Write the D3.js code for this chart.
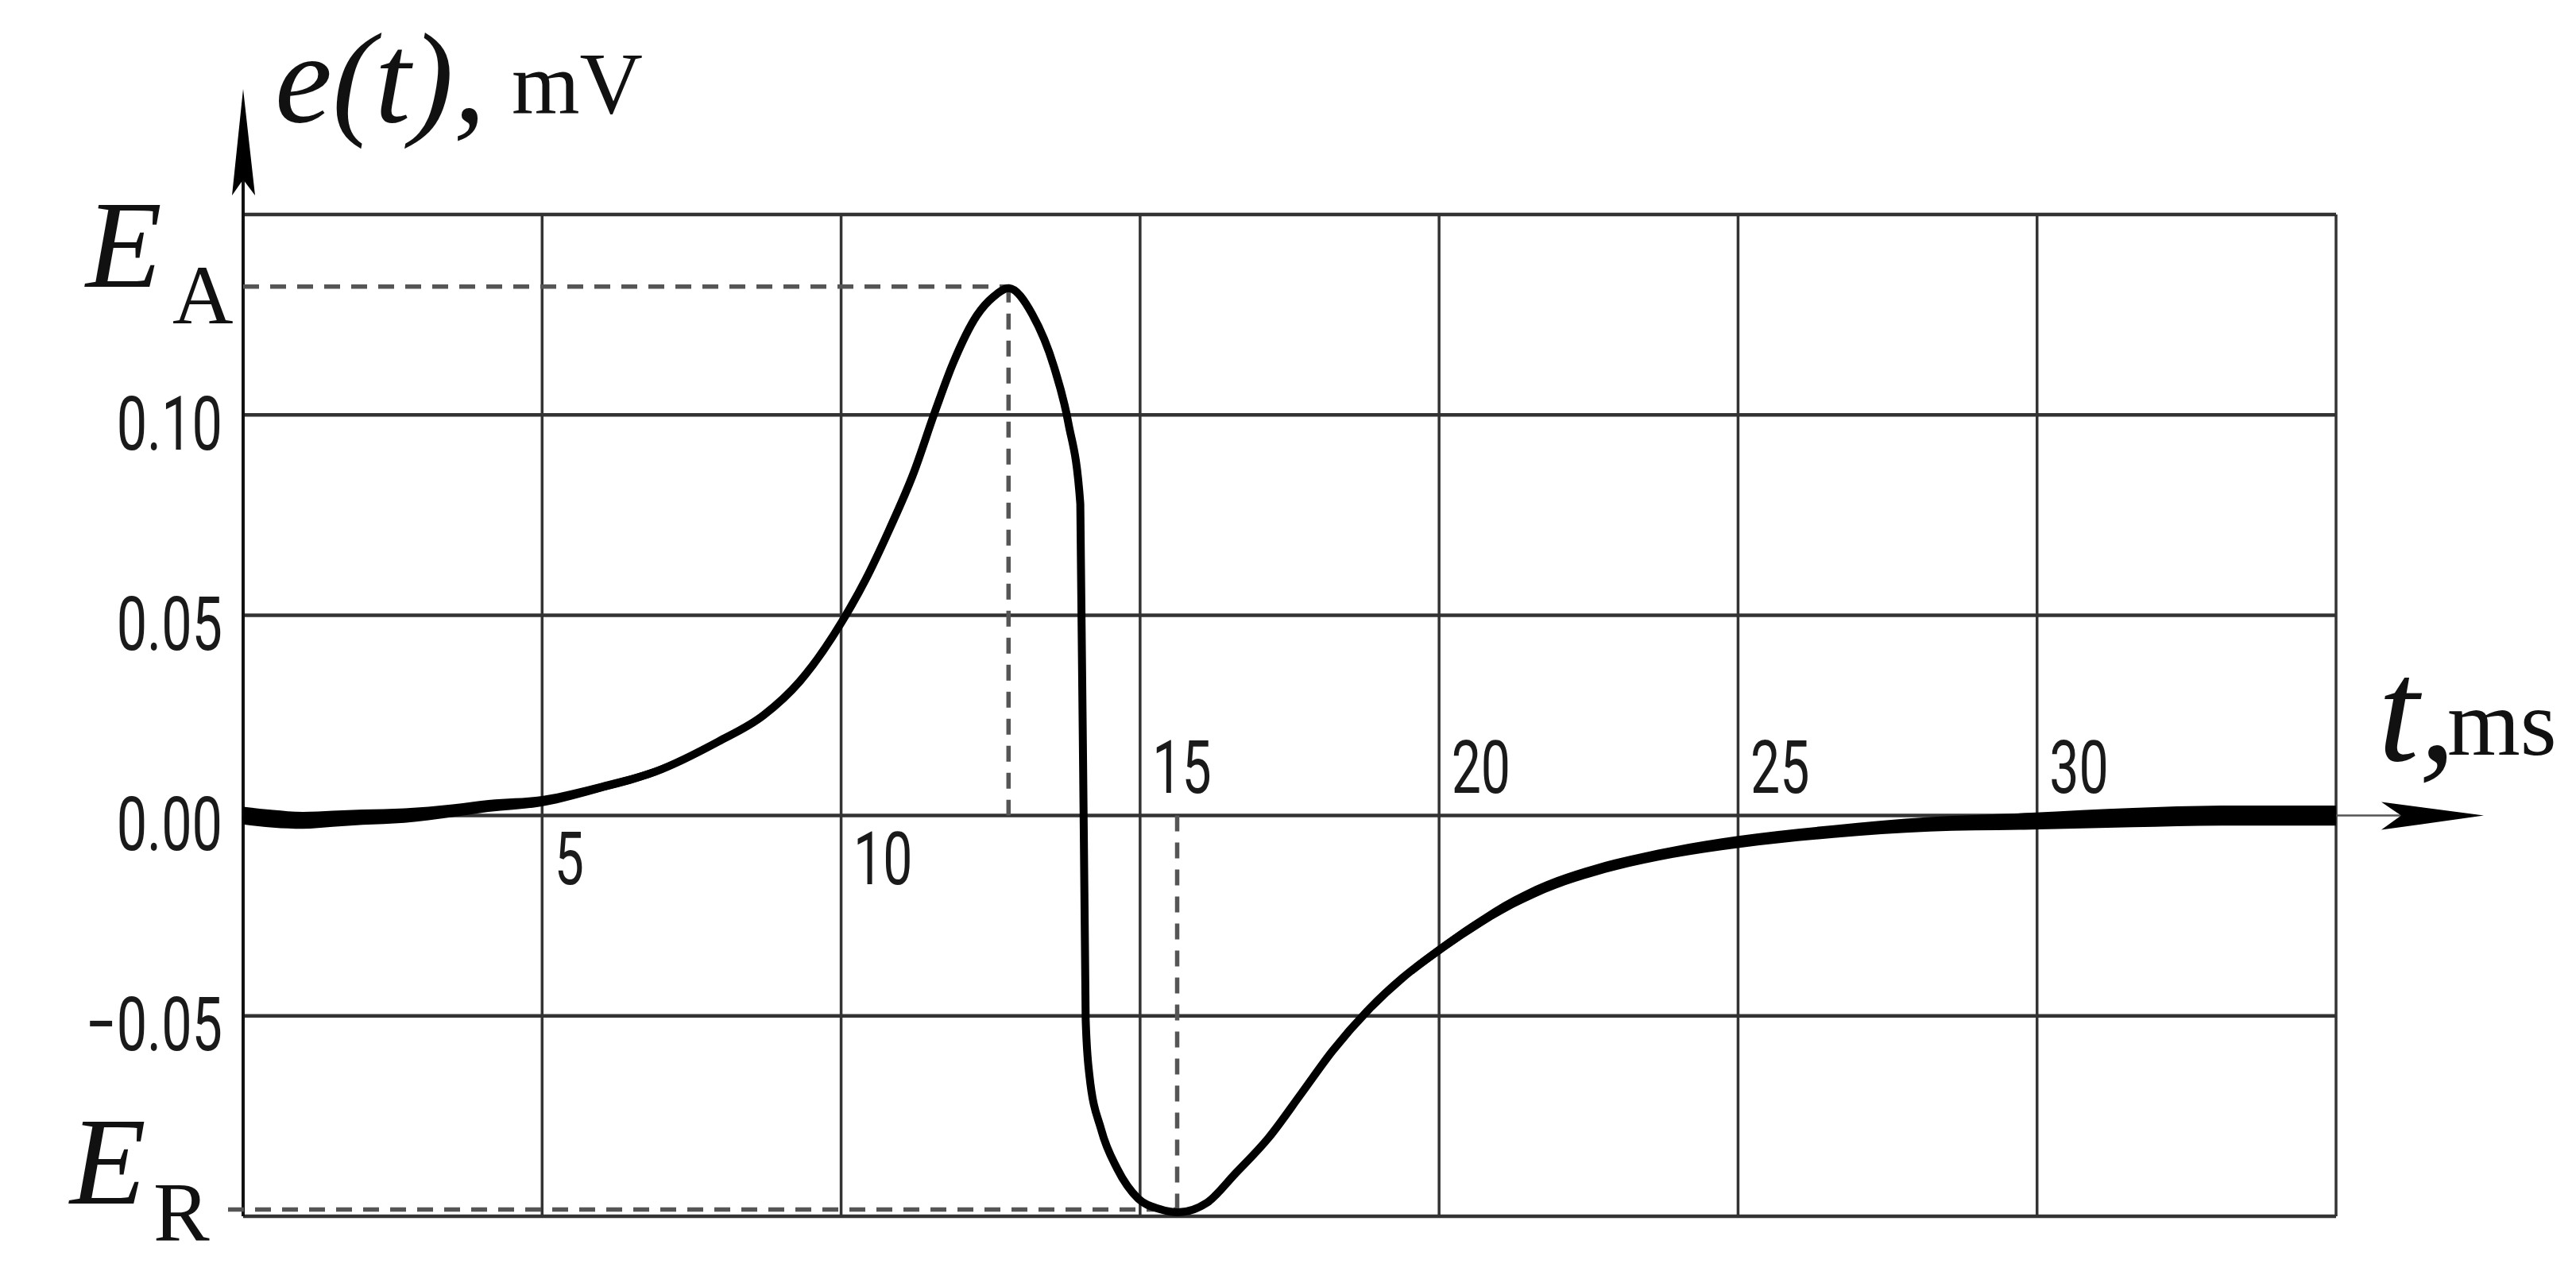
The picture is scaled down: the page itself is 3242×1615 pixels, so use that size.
<!DOCTYPE html>
<html>
<head>
<meta charset="utf-8">
<script src="https://cdn.jsdelivr.net/npm/d3@7"></script>
<style>
  body { margin: 0; background: #fff; }
  svg { display: block; }
  .tick text { font-family: Roboto, "DejaVu Sans", sans-serif; font-weight: 400; fill: #1a1a1a; }
  .serif { font-family: "Liberation Serif", "DejaVu Serif", serif; fill: #111; }
</style>
</head>
<body>
<svg id="chart" width="3242" height="1615"></svg>
<script>
// trace: time in ms, e(t) in mV
var timeMs = [0.0, 0.5, 1.0, 1.5, 2.0, 2.7, 3.5, 4.1, 5.0, 6.0, 6.9, 7.95, 8.7, 9.31,
              10.01, 10.41, 10.81, 11.21, 11.57, 11.87, 12.27, 12.55, 12.8, 13.2, 13.56,
              13.8, 14.0, 14.09, 14.15, 14.35, 14.62, 14.97, 15.33, 15.63, 16.12, 16.59,
              17.15, 17.7, 18.22, 18.83, 19.39, 19.95, 20.55, 21.25, 21.96, 22.6, 23.9,
              25.0, 26.6, 28.2, 29.9, 31.6, 33.3, 35.0];
var emfMv = [0.0000, -0.0008, -0.0012, -0.0008, -0.0004, 0.0000, 0.0012, 0.0024, 0.0036,
             0.0071, 0.0110, 0.0185, 0.0250, 0.0335, 0.0483, 0.0589, 0.0715, 0.0854, 0.1008,
             0.1128, 0.1248, 0.1295, 0.1316, 0.1250, 0.1120, 0.0980, 0.0778, -0.0509, -0.0645,
             -0.0784, -0.0882, -0.0956, -0.0982, -0.0990, -0.0966, -0.0894, -0.0804, -0.0693,
             -0.0587, -0.0483, -0.0405, -0.0341, -0.0279, -0.0216, -0.0168, -0.0137, -0.0092,
             -0.0066, -0.0040, -0.0022, -0.0014, -0.0005, 0.0000, 0.0000];
// half width of the noisy band around the trace, mV
var noiseMv = [0.0022, 0.0022, 0.0021, 0.0020, 0.0019, 0.0018, 0.0016, 0.0015, 0.0013,
               0.0011, 0.0010, 0.0008, 0.0007, 0.0006, 0.0004, 0.0003, 0.0002, 0.0002, 0.0002,
               0.0002, 0.0002, 0.0002, 0.0002, 0.0002, 0.0002, 0.0002, 0.0002, 0.0002, 0.0002,
               0.0002, 0.0003, 0.0004, 0.0005, 0.0005, 0.0005, 0.0005, 0.0005, 0.0006,
               0.0007, 0.0008, 0.0010, 0.0012, 0.0013, 0.0014, 0.0014, 0.0014, 0.0014,
               0.0015, 0.0016, 0.0018, 0.0021, 0.0024, 0.0025, 0.0025];

var xTicks = [5, 10, 15, 20, 25, 30];
var yTicks = [-0.05, 0.00, 0.05, 0.10];
var xGrid = [0, 5, 10, 15, 20, 25, 30, 35];
var yGrid = [-0.10, -0.05, 0.00, 0.05, 0.10, 0.15];

// amplitude markers E_A (peak) and E_R (trough)
var markName = ["A", "R"];
var markT = [12.8, 15.62];
var markE = [0.132, -0.0983];

var svg = d3.select("#chart");

var x = d3.scaleLinear().domain([0, 35]).range([306, 2940]);
var y = d3.scaleLinear().domain([-0.10, 0.15]).range([1531, 270]);

var squeeze = 0.72;   // narrow drafting-style digits

// grid
svg.append("g").selectAll("line").data(yGrid).enter().append("line")
    .attr("x1", x(0)).attr("x2", x(35))
    .attr("y1", function(d) { return y(d); }).attr("y2", function(d) { return y(d); })
    .attr("stroke", "#333").attr("stroke-width", 4.5);

svg.append("g").selectAll("line").data(xGrid).enter().append("line")
    .attr("x1", function(d) { return x(d); }).attr("x2", function(d) { return x(d); })
    .attr("y1", y(0.15)).attr("y2", y(-0.10))
    .attr("stroke", "#333").attr("stroke-width", 3.5);

// vertical axis with arrow
svg.append("line")
    .attr("x1", x(0)).attr("x2", x(0)).attr("y1", y(-0.10)).attr("y2", 130)
    .attr("stroke", "#111").attr("stroke-width", 4);
svg.append("path")
    .attr("d", "M" + x(0) + ",112 L" + (x(0) + 15) + ",246 L" + x(0) + ",226 L" + (x(0) - 14) + ",246 Z")
    .attr("fill", "#000");

// horizontal axis continues past the frame
var x0 = y(0);
svg.append("line")
    .attr("x1", x(35)).attr("x2", 3030).attr("y1", x0).attr("y2", x0)
    .attr("stroke", "#555").attr("stroke-width", 2.5);
svg.append("path")
    .attr("d", "M3126," + x0 + " L2997," + (x0 - 17) + " L3022," + x0 + " L2997," + (x0 + 18) + " Z")
    .attr("fill", "#000");

// dashed guides to E_A and E_R
var guides = svg.append("g")
    .attr("stroke", "#555").attr("stroke-width", 5.5).attr("stroke-dasharray", "20,14").attr("fill", "none");
markT.forEach(function(t, i) {
    guides.append("line")
        .attr("x1", x(0) - (i == 1 ? 19 : 0)).attr("x2", x(t))
        .attr("y1", y(markE[i])).attr("y2", y(markE[i]));
    guides.append("line")
        .attr("x1", x(t)).attr("x2", x(t))
        .attr("y1", y(markE[i])).attr("y2", y(0));
});

// the trace: noisy band + core line
var pts = timeMs.map(function(t, i) { return {t: t, e: emfMv[i], n: noiseMv[i]}; });

var band = d3.area()
    .x(function(d) { return x(d.t); })
    .y0(function(d) { return y(d.e - d.n); })
    .y1(function(d) { return y(d.e + d.n); })
    .curve(d3.curveMonotoneX);

var trace = d3.line()
    .x(function(d) { return x(d.t); })
    .y(function(d) { return y(d.e); })
    .curve(d3.curveMonotoneX);

svg.append("path").datum(pts).attr("d", band).attr("fill", "#000");
svg.append("path").datum(pts).attr("d", trace)
    .attr("fill", "none").attr("stroke", "#000").attr("stroke-width", 10).attr("stroke-linejoin", "round");

// y tick labels
var yAxis = svg.append("g")
    .attr("transform", "translate(" + x(0) + ",0)")
    .call(d3.axisLeft(y).tickValues(yTicks).tickSize(0).tickFormat(d3.format(".2f")));
yAxis.select(".domain").remove();
yAxis.selectAll(".tick text")
    .attr("font-size", 95)
    .attr("x", -26 / squeeze)
    .attr("dy", 0)
    .attr("y", 43)
    .attr("transform", "scale(" + squeeze + ",1)");

// x tick labels: under the axis where the trace is above it, over the axis otherwise
var traceAt = d3.scaleLinear().domain(timeMs).range(emfMv);
var xAxis = svg.append("g")
    .attr("transform", "translate(0," + y(0) + ")")
    .call(d3.axisBottom(x).tickValues(xTicks).tickSize(0).tickFormat(d3.format("d")));
xAxis.select(".domain").remove();
xAxis.selectAll(".tick text")
    .attr("font-size", 92)
    .attr("text-anchor", "start")
    .attr("x", 15 / squeeze)
    .attr("dy", 0)
    .attr("y", function(d) { return traceAt(d) > 0 ? 86 : -29; })
    .attr("transform", "scale(" + squeeze + ",1)");

// axis titles
svg.append("text").attr("class", "serif")
    .attr("x", 346).attr("y", 153)
    .attr("font-size", 162).attr("font-style", "italic")
    .text("e(t),");
svg.append("text").attr("class", "serif")
    .attr("x", 644).attr("y", 142)
    .attr("font-size", 110)
    .text("mV");

svg.append("text").attr("class", "serif")
    .attr("x", 2993).attr("y", 957)
    .attr("font-size", 185).attr("font-style", "italic")
    .text("t,");
svg.append("text").attr("class", "serif")
    .attr("x", 3080).attr("y", 950)
    .attr("font-size", 118)
    .text("ms");

// E_A and E_R labels
var eLeft = [108, 88], subLeft = [217, 193];
markName.forEach(function(name, i) {
    var base = y(markE[i]) - (i == 0 ? 0 : 7);
    svg.append("text").attr("class", "serif")
        .attr("x", eLeft[i]).attr("y", base)
        .attr("font-size", 157).attr("font-style", "italic")
        .text("E");
    svg.append("text").attr("class", "serif")
        .attr("x", subLeft[i]).attr("y", base + 46)
        .attr("font-size", 106)
        .text(name);
});
</script>
</body>
</html>
